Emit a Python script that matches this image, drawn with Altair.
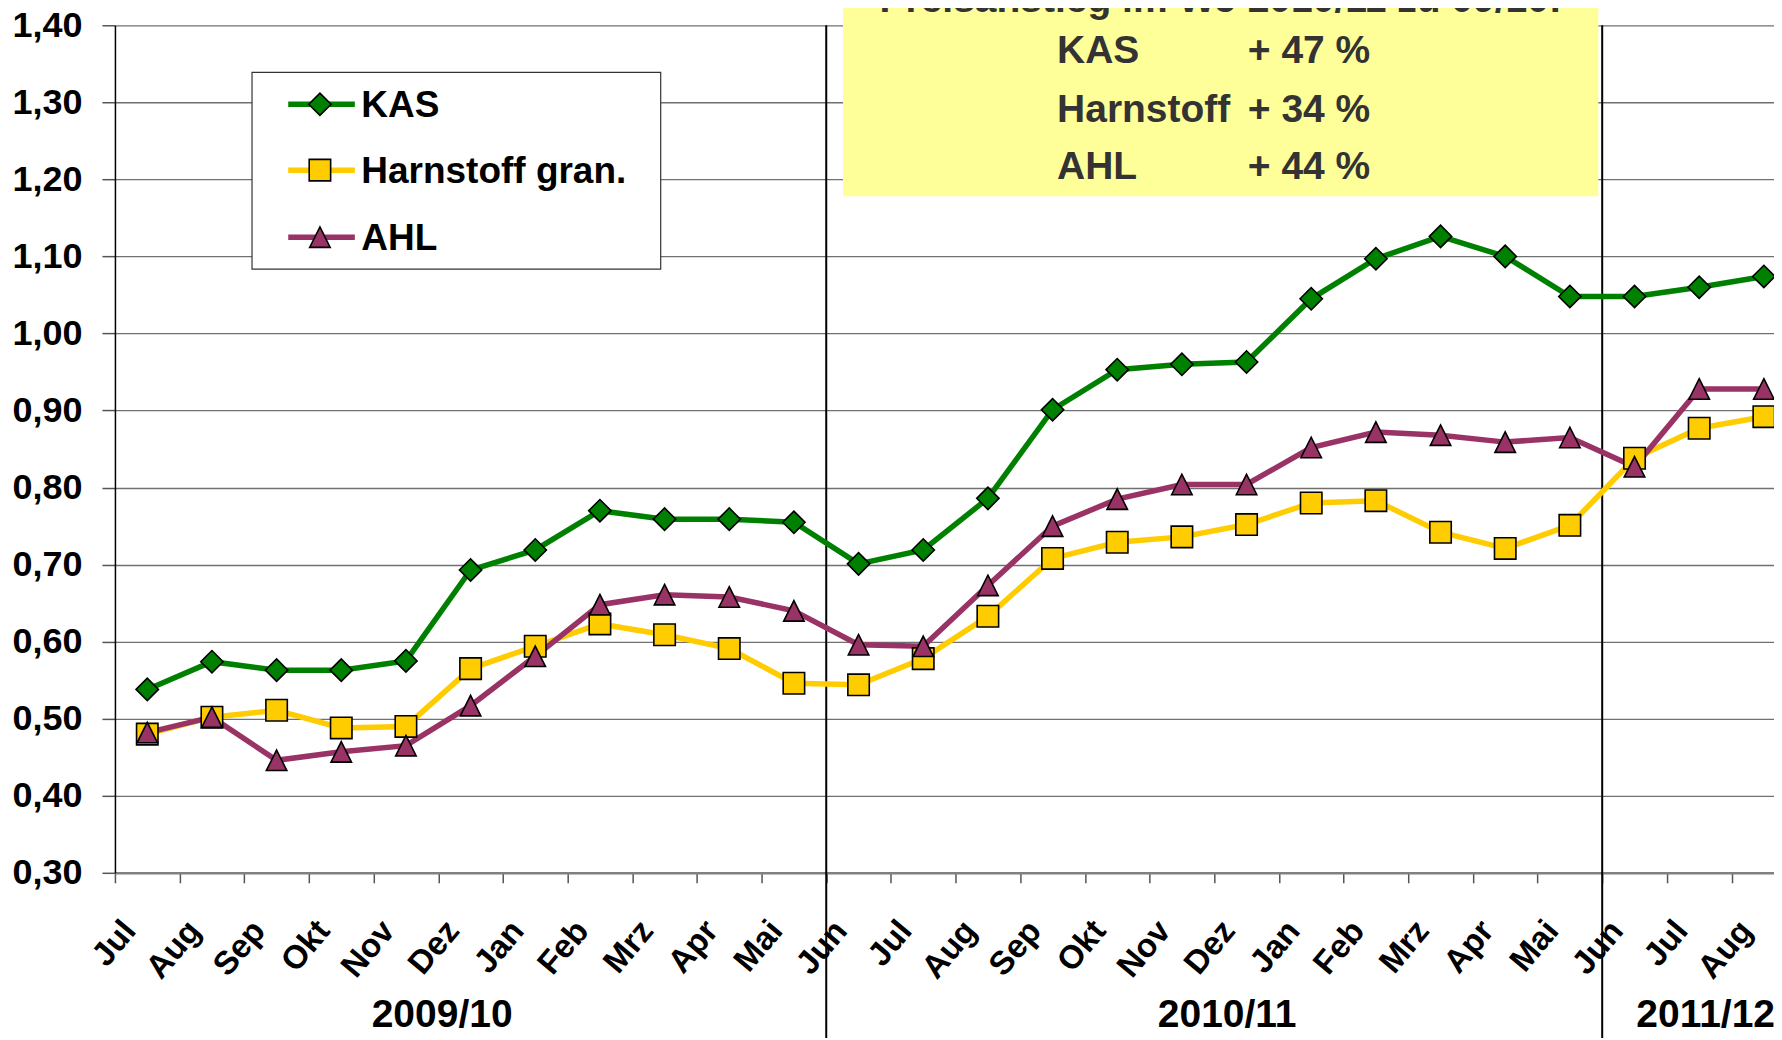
import altair as alt
import pandas as pd

# ---------------- data ----------------
months = ["Jul", "Aug", "Sep", "Okt", "Nov", "Dez", "Jan", "Feb", "Mrz", "Apr", "Mai",
          "Jun", "Jul", "Aug", "Sep", "Okt", "Nov", "Dez", "Jan", "Feb", "Mrz", "Apr", "Mai",
          "Jun", "Jul", "Aug"]
years = ["2009/10", "2010/11", "2011/12"]
year_counts = [11, 12, 3]

kas = [0.538, 0.574, 0.563, 0.563, 0.575, 0.693, 0.719, 0.770, 0.759, 0.759, 0.755,
       0.701, 0.719, 0.786, 0.901, 0.953, 0.960, 0.963, 1.045, 1.097, 1.126, 1.100, 1.048,
       1.048, 1.060, 1.074]
harnstoff = [0.480, 0.502, 0.511, 0.488, 0.490, 0.565, 0.594, 0.623, 0.609, 0.591, 0.546,
             0.544, 0.578, 0.633, 0.708, 0.729, 0.736, 0.752, 0.780, 0.783, 0.742, 0.721, 0.751,
             0.838, 0.877, 0.892]
ahl = [0.482, 0.502, 0.446, 0.457, 0.465, 0.517, 0.581, 0.648, 0.661, 0.658, 0.640,
       0.596, 0.594, 0.673, 0.750, 0.785, 0.804, 0.804, 0.852, 0.872, 0.868, 0.859, 0.865,
       0.827, 0.928, 0.928]

series = ["KAS", "Harnstoff gran.", "AHL"]
colors = ["#008000", "#FFCC00", "#993366"]
shapes = ["diamond", "square", "M0,-1L1,1L-1,1Z"]
sizes = [500, 420, 540]

y_ticks = [0.30, 0.40, 0.50, 0.60, 0.70, 0.80, 0.90, 1.00, 1.10, 1.20, 1.30, 1.40]

box_title = "Preisanstieg im WJ 2010/11 zu 09/10:"
box_names = ["KAS", "Harnstoff", "AHL"]
box_changes = ["+ 47 %", "+ 34 %", "+ 44 %"]

# ---------------- layout (data units) ----------------
UNIT_PX = 64.7
W = 1660
H = 848
XMIN = -0.5
XMAX = XMIN + W / UNIT_PX
HALF = W / (XMAX - XMIN) / 2
FONT = "Liberation Sans, Arial, sans-serif"

BOX_X, BOX_Y = (10.76, 22.44), (1.178, 1.43)
BOX_ROWS_Y = [1.351, 1.274, 1.201]
BOX_NAME_X, BOX_CHANGE_X, BOX_TITLE_Y = 14.07, 17.02, 1.417

LEG_X, LEG_Y = (1.62, 7.94), (1.0835, 1.339)
LEG_ROWS_Y = [1.2975, 1.212, 1.125]
LEG_LINE_X = (2.18, 3.21)
LEG_MARK_X, LEG_TEXT_X = 2.67, 3.31
YEAR_LABEL_X = [4.56, 16.7, 24.1]
YEAR_LABEL_Y = 0.116
SEP_Y = (1.40, 0.05)

# ---------------- tables ----------------
rows = []
for s, vals in zip(series, [kas, harnstoff, ahl]):
    for i, v in enumerate(vals):
        rows.append({"series": s, "i": i, "month": months[i], "value": v})
df = pd.DataFrame(rows)

starts = [sum(year_counts[:k]) for k in range(len(year_counts))]
years_df = pd.DataFrame({"year": years, "xc": YEAR_LABEL_X})
sep_df = pd.DataFrame({"b": [st - 0.5 for st in starts[1:]]})

legend_df = pd.DataFrame({
    "series": series,
    "y": LEG_ROWS_Y,
    "x1": [LEG_LINE_X[0]] * 3,
    "x2": [LEG_LINE_X[1]] * 3,
    "xm": [LEG_MARK_X] * 3,
    "xt": [LEG_TEXT_X] * 3,
})
box_df = pd.DataFrame({"name": box_names, "change": box_changes, "y": BOX_ROWS_Y,
                       "xn": [BOX_NAME_X] * 3, "xc": [BOX_CHANGE_X] * 3})
one = pd.DataFrame({"x1": [BOX_X[0]], "x2": [BOX_X[1]], "y1": [BOX_Y[0]], "y2": [BOX_Y[1]],
                    "lx1": [LEG_X[0]], "lx2": [LEG_X[1]], "ly1": [LEG_Y[0]], "ly2": [LEG_Y[1]],
                    "title": [box_title], "tx": [(BOX_X[0] + BOX_X[1]) / 2], "ty": [BOX_TITLE_Y]})

# ---------------- scales & axes ----------------
xs = alt.Scale(domain=[XMIN, XMAX], nice=False, zero=False)
ys = alt.Scale(domain=[0.30, 1.40], nice=False, zero=False)
col_scale = alt.Scale(domain=series, range=colors)
shape_scale = alt.Scale(domain=series, range=shapes)
size_scale = alt.Scale(domain=series, range=sizes)

months_js = "[" + ",".join("'" + m + "'" for m in months) + "]"

x_axis = alt.Axis(
    values=list(range(len(months))), labelExpr=months_js + "[datum.value]",
    tickOffset=-HALF, labelOffset=HALF - 18,
    labelAngle=-50, labelAlign="right", labelBaseline="middle",
    labelFont=FONT, labelFontSize=33, labelFontWeight="bold", labelColor="black",
    labelPadding=42, labelOverlap=False, labelFlush=False, labelBound=False,
    tickSize=10, tickColor="#555555", tickWidth=1.5,
    domainColor="#808080", domainWidth=2.5, grid=False, title=None,
)
y_axis = alt.Axis(
    values=y_ticks, labelExpr="replace(format(datum.value, '.2f'), '.', ',')",
    labelFont=FONT, labelFontSize=36, labelFontWeight="bold", labelColor="black",
    labelPadding=20, tickSize=13, tickColor="#555555", tickWidth=1.5,
    domainColor="black", domainWidth=1.5,
    grid=True, gridColor="#707070", gridWidth=1.3, title=None,
)


def X(field):
    return alt.X(field, scale=xs, axis=x_axis)


def Y(field):
    return alt.Y(field, scale=ys, axis=y_axis)


base = alt.Chart(df)
layers = []

# yellow annotation box
layers.append(alt.Chart(one).mark_rect(fill="#FFFF99").encode(
    x=X("x1:Q"), x2="x2:Q", y=Y("y1:Q"), y2="y2:Q"))
layers.append(alt.Chart(one).mark_text(font=FONT, fontSize=39, fontWeight="bold", color="#333333",
                                       align="center", baseline="alphabetic").encode(
    x=X("tx:Q"), y=Y("ty:Q"), text="title:N"))
layers.append(alt.Chart(box_df).mark_text(font=FONT, fontSize=39, fontWeight="bold", color="#333333",
                                          align="left", baseline="alphabetic").encode(
    x=X("xn:Q"), y=Y("y:Q"), text="name:N"))
layers.append(alt.Chart(box_df).mark_text(font=FONT, fontSize=39, fontWeight="bold", color="#333333",
                                          align="left", baseline="alphabetic").encode(
    x=X("xc:Q"), y=Y("y:Q"), text="change:N"))

# separators of the year groups
layers.append(alt.Chart(sep_df).mark_rule(color="black", strokeWidth=2).encode(
    x=X("b:Q"), y=Y("top:Q"), y2="bot:Q").transform_calculate(
    top=str(SEP_Y[0]), bot=str(SEP_Y[1])))

# year labels
layers.append(alt.Chart(years_df).mark_text(font=FONT, fontSize=39, fontWeight="bold", color="black",
                                            align="center", baseline="middle").encode(
    x=X("xc:Q"), y=Y("yy:Q"), text="year:N"
).transform_calculate(yy=str(YEAR_LABEL_Y)))

# series lines and markers
for s in series:
    layers.append(base.transform_filter(alt.datum.series == s).mark_line(strokeWidth=5.5).encode(
        x=X("i:Q"), y=Y("value:Q"),
        color=alt.Color("series:N", scale=col_scale, legend=None)))
for s in series:
    layers.append(base.transform_filter(alt.datum.series == s).mark_point(
        filled=True, stroke="black", strokeWidth=1.6, opacity=1).encode(
        x=X("i:Q"), y=Y("value:Q"),
        fill=alt.Fill("series:N", scale=col_scale, legend=None),
        shape=alt.Shape("series:N", scale=shape_scale, legend=None),
        size=alt.Size("series:N", scale=size_scale, legend=None)))

# manual legend
layers.append(alt.Chart(one).mark_rect(fill="white", stroke="#333333", strokeWidth=1.2).encode(
    x=X("lx1:Q"), x2="lx2:Q", y=Y("ly1:Q"), y2="ly2:Q"))
layers.append(alt.Chart(legend_df).mark_rule(strokeWidth=5.5).encode(
    x=X("x1:Q"), x2="x2:Q", y=Y("y:Q"),
    color=alt.Color("series:N", scale=col_scale, legend=None)))
layers.append(alt.Chart(legend_df).mark_point(filled=True, stroke="black", strokeWidth=1.6, opacity=1).encode(
    x=X("xm:Q"), y=Y("y:Q"),
    fill=alt.Fill("series:N", scale=col_scale, legend=None),
    shape=alt.Shape("series:N", scale=shape_scale, legend=None),
    size=alt.Size("series:N", scale=size_scale, legend=None)))
layers.append(alt.Chart(legend_df).mark_text(font=FONT, fontSize=37, fontWeight="bold", color="black",
                                             align="left", baseline="middle", dy=2).encode(
    x=X("xt:Q"), y=Y("y:Q"), text="series:N"))

chart = alt.layer(*layers).properties(
    width=W, height=H,
    autosize=alt.AutoSizeParams(type="none"),
    padding={"left": 107, "top": 17, "right": 0, "bottom": 165},
    background="white",
).configure_view(strokeWidth=0)

chart.save("out.html", embed_options={"renderer": "svg", "actions": False})
